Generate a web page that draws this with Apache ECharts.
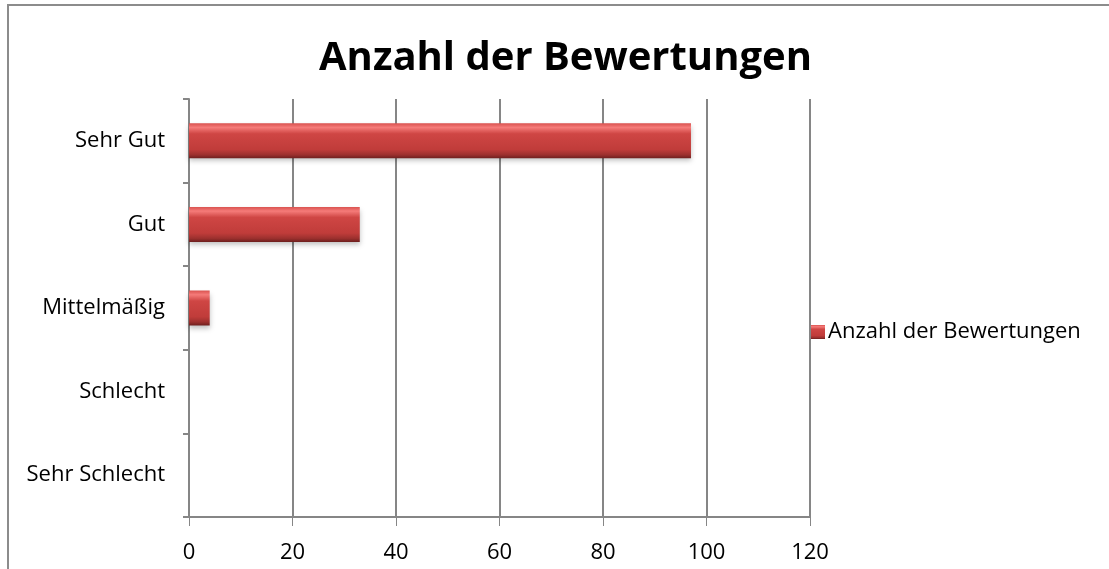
<!DOCTYPE html>
<html>
<head>
<meta charset="utf-8">
<script src="https://cdn.jsdelivr.net/npm/echarts@6/dist/echarts.min.js"></script>
<style>
  html, body { margin: 0; padding: 0; background: #fff; }
  #myChart { width: 1109px; height: 569px; }
</style>
</head>
<body>
<div id="myChart"></div>
<script>
// Kategorien von oben nach unten
const categories = ['Sehr Gut', 'Gut', 'Mittelmäßig', 'Schlecht', 'Sehr Schlecht']
const seriesName = 'Anzahl der Bewertungen'
const values = [97, 33, 4, 0, 0]
const xTicks = [0, 20, 40, 60, 80, 100, 120]

const font = 'Open Sans'
const myChart = echarts.init(document.getElementById('myChart'))

const barColor = new echarts.graphic.LinearGradient(0, 0, 0, 1, [
  {offset: 0, color: '#d9524f'},
  {offset: 0.12, color: '#f57b79'},
  {offset: 0.3, color: '#cf4644'},
  {offset: 0.75, color: '#c03c3a'},
  {offset: 0.9, color: '#9c302e'},
  {offset: 1, color: '#6e1f1e'}
])

myChart.setOption({
  animation: false,
  textStyle: {fontFamily: font},
  title: {
    text: seriesName,
    left: 314,
    top: 34,
    textStyle: {fontFamily: font, fontSize: 40, fontWeight: 'bold', color: '#000'}
  },
  graphic: [{
    type: 'rect',
    shape: {x: 8, y: 5, width: 1300, height: 800},
    style: {fill: 'none', stroke: '#8c8c8c', lineWidth: 2},
    silent: true
  }],
  legend: {
    left: 806,
    top: 316,
    itemWidth: 14,
    itemHeight: 14,
    itemGap: 4,
    icon: 'rect',
    textStyle: {fontFamily: font, fontSize: 22, color: '#000', padding: [0, 0, 0, -2]},
    data: [seriesName]
  },
  grid: {
    left: 189,
    right: 299,
    top: 99,
    bottom: 52,
    containLabel: false
  },
  xAxis: {
    type: 'value',
    min: xTicks[0],
    max: xTicks[xTicks.length - 1],
    interval: 20,
    axisLine: {show: true, lineStyle: {color: '#868686', width: 2}},
    axisTick: {show: true, length: 9, lineStyle: {color: '#868686', width: 1}},
    axisLabel: {fontFamily: font, fontSize: 22, color: '#000', margin: 25},
    splitLine: {show: true, lineStyle: {color: '#868686', width: 2}}
  },
  yAxis: {
    type: 'category',
    inverse: true,
    data: categories,
    axisLine: {show: true, lineStyle: {color: '#868686', width: 2}},
    axisTick: {show: true, length: 6, lineStyle: {color: '#868686', width: 2}},
    axisLabel: {fontFamily: font, fontSize: 22, color: '#000', margin: 24}
  },
  series: [{
    name: seriesName,
    type: 'bar',
    barWidth: 35,
    data: values,
    itemStyle: {
      color: barColor,
      borderWidth: 0,
      shadowBlur: 5,
      shadowOffsetY: 3,
      shadowColor: 'rgba(0,0,0,0.25)'
    }
  }]
})
</script>
</body>
</html>
